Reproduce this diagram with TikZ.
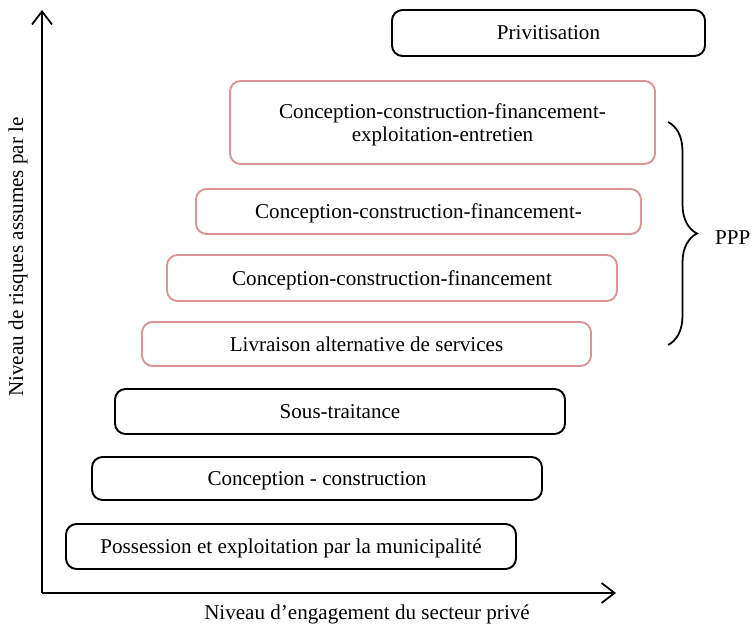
\documentclass[tikz,border=0pt]{standalone}
\usepackage{fontspec}
\setmainfont{Liberation Serif}
\usepackage{xcolor}
\usetikzlibrary{positioning,arrows.meta,decorations.pathreplacing}

\definecolor{pinkline}{RGB}{217,150,148}

\begin{document}
\begin{tikzpicture}[x=0.02cm, y=-0.02cm, font=\fontsize{12}{13.5}\selectfont,
    stage/.style={draw, line width=1.1pt, rounded corners=6pt, align=center, inner sep=0pt, text depth=0pt},
    pppstage/.style={stage, draw=pinkline},
    axis/.style={line width=1.1pt, -{Straight Barb[length=0.26cm, width=0.4cm, line width=1pt]}}]
  \useasboundingbox (0,0) rectangle (752,628);

  % Axes
  \coordinate (o) at (42,593);
  \coordinate (ytop) at (42,10);
  \coordinate (xend) at (616,593);
  \draw[axis] (o) -- (ytop);
  \draw[axis] (o) -- (xend);
  \node[rotate=90] (ylab) at (18,257) {Niveau de risques assumes par le};
  \node (xlab) at (367,614) {Niveau d'engagement du secteur privé};

  % Stages, from public to private
  \node[stage, minimum width=450*0.02cm, minimum height=45*0.02cm] (poss) at (291,546.5) {Possession et exploitation par la municipalité};
  \node[stage, minimum width=450*0.02cm, minimum height=43*0.02cm] (conc) at (317,478.5) {Conception - construction};
  \node[stage, minimum width=450*0.02cm, minimum height=45*0.02cm] (sous) at (340,411.5) {Sous-traitance};
  \node[pppstage, minimum width=449*0.02cm, minimum height=44*0.02cm] (livr) at (366.5,344) {Livraison alternative de services};
  \node[pppstage, minimum width=450*0.02cm, minimum height=46*0.02cm] (ccf) at (392,278) {Conception-construction-financement};
  \node[pppstage, minimum width=445*0.02cm, minimum height=45*0.02cm] (ccfe) at (418.5,211.5) {Conception-construction-financement-};
  \node[pppstage, minimum width=425*0.02cm, minimum height=83*0.02cm] (ccfee) at (442.5,122.5) {Conception-construction-financement-\\exploitation-entretien};
  \node[stage, minimum width=313*0.02cm, minimum height=46*0.02cm] (priv) at (548.5,33) {Privitisation};

  % PPP brace
  \coordinate (btop) at (668,122);
  \coordinate (bbot) at (668,345);
  \draw[line width=1pt, decorate, decoration={brace, amplitude=0.58cm}] (btop) -- (bbot);
  \node[anchor=west] (ppp) at (709,238) {PPP};
\end{tikzpicture}
\end{document}
